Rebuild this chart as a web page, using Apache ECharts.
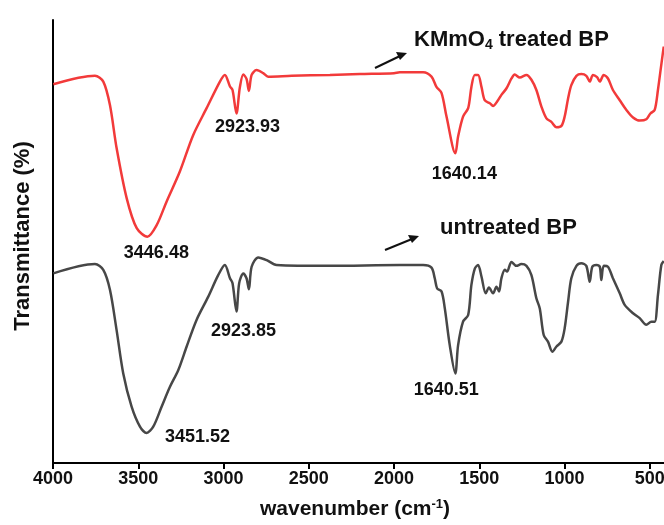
<!DOCTYPE html>
<html><head><meta charset="utf-8">
<script src="https://cdn.jsdelivr.net/npm/echarts@6/dist/echarts.min.js"></script>
<style>html,body{margin:0;padding:0;background:#fff}#c{width:664px;height:525px}</style>
</head><body><div id="c"></div>
<script>
// wavenumber (cm-1) and transmittance (arbitrary %, offset spectra)
const redX = [3998,3754,3705,3666,3627,3568,3509,3446.48,3392,3334,3256,3178,3099,3021,2992,2962,2947,2923.93,2904,2884,2865,2851,2835,2806,2767,2738,2600,2376,2200,2000,1966,1829,1780,1751,1721,1692,1640.14,1624,1595,1565,1546,1526,1507,1487,1468,1438,1419,1395,1370,1340,1311,1292,1262,1223,1194,1165,1135,1106,1077,1047,1018,999,979,960,930,901,872,852,833,809,793,770,745,716,676,637,598,559,520,496,471,452,432,418];
const redY = [85.5,87.4,86.1,80.8,71.1,59.8,53.0,51.1,53.7,59.0,65.8,74.0,80.1,86.1,87.6,85.0,84.2,78.9,84.8,87.7,86.7,84.0,87.6,88.7,88.0,87.2,87.4,87.6,87.8,88.0,88.2,88.2,87.2,84.9,83.5,78.2,69.9,73.7,78.2,80.1,84.9,87.6,87.6,84.9,81.9,81.2,80.6,81.6,83.1,84.6,86.8,87.7,87.0,87.6,86.5,84.2,80.4,77.8,77.0,75.8,76.1,78.2,82.3,85.3,87.4,87.8,87.4,86.1,87.6,87.1,86.1,87.6,86.8,84.2,81.9,79.7,78.0,77.3,77.6,78.9,79.7,84.2,90.0,94.0];
const grayX = [3998,3754,3705,3666,3627,3588,3539,3490,3451.52,3412,3363,3314,3265,3216,3158,3090,3031,2992,2962,2947,2923.85,2908,2884,2865,2851,2835,2796,2747,2689,2376,1966,1829,1780,1761,1747,1721,1702,1673,1640.51,1624,1595,1565,1546,1526,1507,1487,1462,1443,1419,1399,1384,1370,1350,1337,1311,1282,1253,1223,1194,1165,1145,1122,1097,1071,1047,1018,999,979,960,930,901,872,852,837,813,793,784,770,745,716,676,647,598,559,520,491,471,452,432,418];
const grayY = [42.8,44.9,43.6,39.1,30.0,20.2,12.7,8.2,6.8,8.2,12.7,17.2,21.0,26.3,32.3,37.5,42.4,44.7,41.7,40.6,34.2,40.6,42.8,41.7,39.2,44.3,46.4,45.8,44.7,44.5,44.7,44.7,44.1,41.7,39.4,38.7,34.9,26.6,20.2,26.6,31.9,33.4,40.2,43.9,44.7,42.1,38.3,39.6,38.3,39.8,38.7,41.7,43.6,43.2,45.4,44.5,44.9,44.5,42.4,37.2,34.9,28.9,27.4,25.1,26.3,27.4,30.4,36.4,41.7,44.5,45.1,44.5,40.9,44.3,44.7,44.3,41.3,44.5,44.3,41.7,38.3,35.7,33.8,32.7,31.2,31.9,31.9,37.9,44.7,45.6];
const redPeaks = [3446.48, 2923.93, 1640.14];
const redPeakY = [51.1, 78.9, 69.9];
const grayPeaks = [3451.52, 2923.85, 1640.51];
const grayPeakY = [6.8, 34.2, 20.2];
const redPeakOffsets = [[9,16],[11,14],[9,21]];
const grayPeakOffsets = [[51,4],[7,20],[-9,17]];
const xTickLabels = [4000,3500,3000,2500,2000,1500,1000,500];

const FONT = '"Liberation Sans", Arial, sans-serif';
const zip = (a,b)=>a.map((v,i)=>[v,b[i]]);
const peakMarks = (xs, ys, offs) => xs.map((x,i)=>({
  coord:[x, ys[i]], name: x.toFixed(2),
  label:{offset: offs[i]}
}));
const markStyle = {
  symbol:'circle', symbolSize:0, silent:true,
  label:{show:true, position:'inside', formatter:p=>p.name, color:'#111',
    fontFamily:FONT, fontWeight:'bold', fontSize:18},
};

const chart = echarts.init(document.getElementById('c'), null, {renderer:'canvas'});
chart.setOption({
  animation:false,
  backgroundColor:'#fff',
  grid:{left:53, top:20, height:443, width:682, outerBoundsMode:'none', containLabel:false},
  xAxis:{
    type:'value', inverse:true, min:0, max:4000, interval:500,
    axisLine:{show:true, onZero:false, lineStyle:{color:'#000', width:2}},
    axisTick:{show:true, inside:false, length:6, lineStyle:{color:'#000', width:2}},
    axisLabel:{color:'#111', fontFamily:FONT, fontWeight:'bold', fontSize:18, margin:7,
      formatter:v=> xTickLabels.includes(v) ? String(v) : ''},
    splitLine:{show:false},
    name:'{a|wavenumber (cm}{s|-1}{a|)}', nameLocation:'start', nameGap:-380,
    nameTextStyle:{
      align:'center', verticalAlign:'top', padding:[35,0,0,0],
      rich:{
        a:{fontFamily:FONT, fontWeight:'bold', fontSize:21, color:'#111'},
        s:{fontFamily:FONT, fontWeight:'bold', fontSize:13, color:'#111', padding:[0,0,10,0]}
      }
    }
  },
  yAxis:{
    type:'value', min:0, max:100,
    axisLine:{show:true, onZero:false, lineStyle:{color:'#000', width:2}},
    axisTick:{show:false}, axisLabel:{show:false}, splitLine:{show:false},
    name:'Transmittance (%)', nameLocation:'middle', nameGap:19,
    nameTextStyle:{fontFamily:FONT, fontWeight:'bold', fontSize:22, color:'#111', padding:[0,0,0,11]}
  },
  series:[
    {type:'line', data:zip(redX, redY), showSymbol:false, smooth:0.3,
      lineStyle:{color:'#f23a3a', width:2.5}, itemStyle:{color:'#f23a3a'},
      markPoint:Object.assign({data:peakMarks(redPeaks, redPeakY, redPeakOffsets)}, markStyle)},
    {type:'line', data:zip(grayX, grayY), showSymbol:false, smooth:0.3,
      lineStyle:{color:'#474747', width:2.5}, itemStyle:{color:'#474747'},
      markPoint:Object.assign({data:peakMarks(grayPeaks, grayPeakY, grayPeakOffsets)}, markStyle)}
  ],
  graphic:[
    {type:'line', shape:{x1:375, y1:68, x2:400, y2:56}, style:{stroke:'#111', lineWidth:2}},
    {type:'polygon', shape:{points:[[407,53],[396,52],[400,60]]}, style:{fill:'#111'}},
    {type:'text', left:414, top:29, style:{
      text:'{a|KMmO}{s|4}{a| treated BP}', fill:'#111',
      rich:{
        a:{fontFamily:FONT, fontWeight:'bold', fontSize:22, fill:'#111'},
        s:{fontFamily:FONT, fontWeight:'bold', fontSize:14, fill:'#111', padding:[11,0,0,0]}
      }}},
    {type:'line', shape:{x1:385, y1:250, x2:412, y2:239}, style:{stroke:'#111', lineWidth:2}},
    {type:'polygon', shape:{points:[[419,236],[408,235],[412,243]]}, style:{fill:'#111'}},
    {type:'text', left:440, top:217, style:{
      text:'untreated BP', fill:'#111', font:'bold 22px ' + FONT}}
  ]
});
</script>
</body></html>
